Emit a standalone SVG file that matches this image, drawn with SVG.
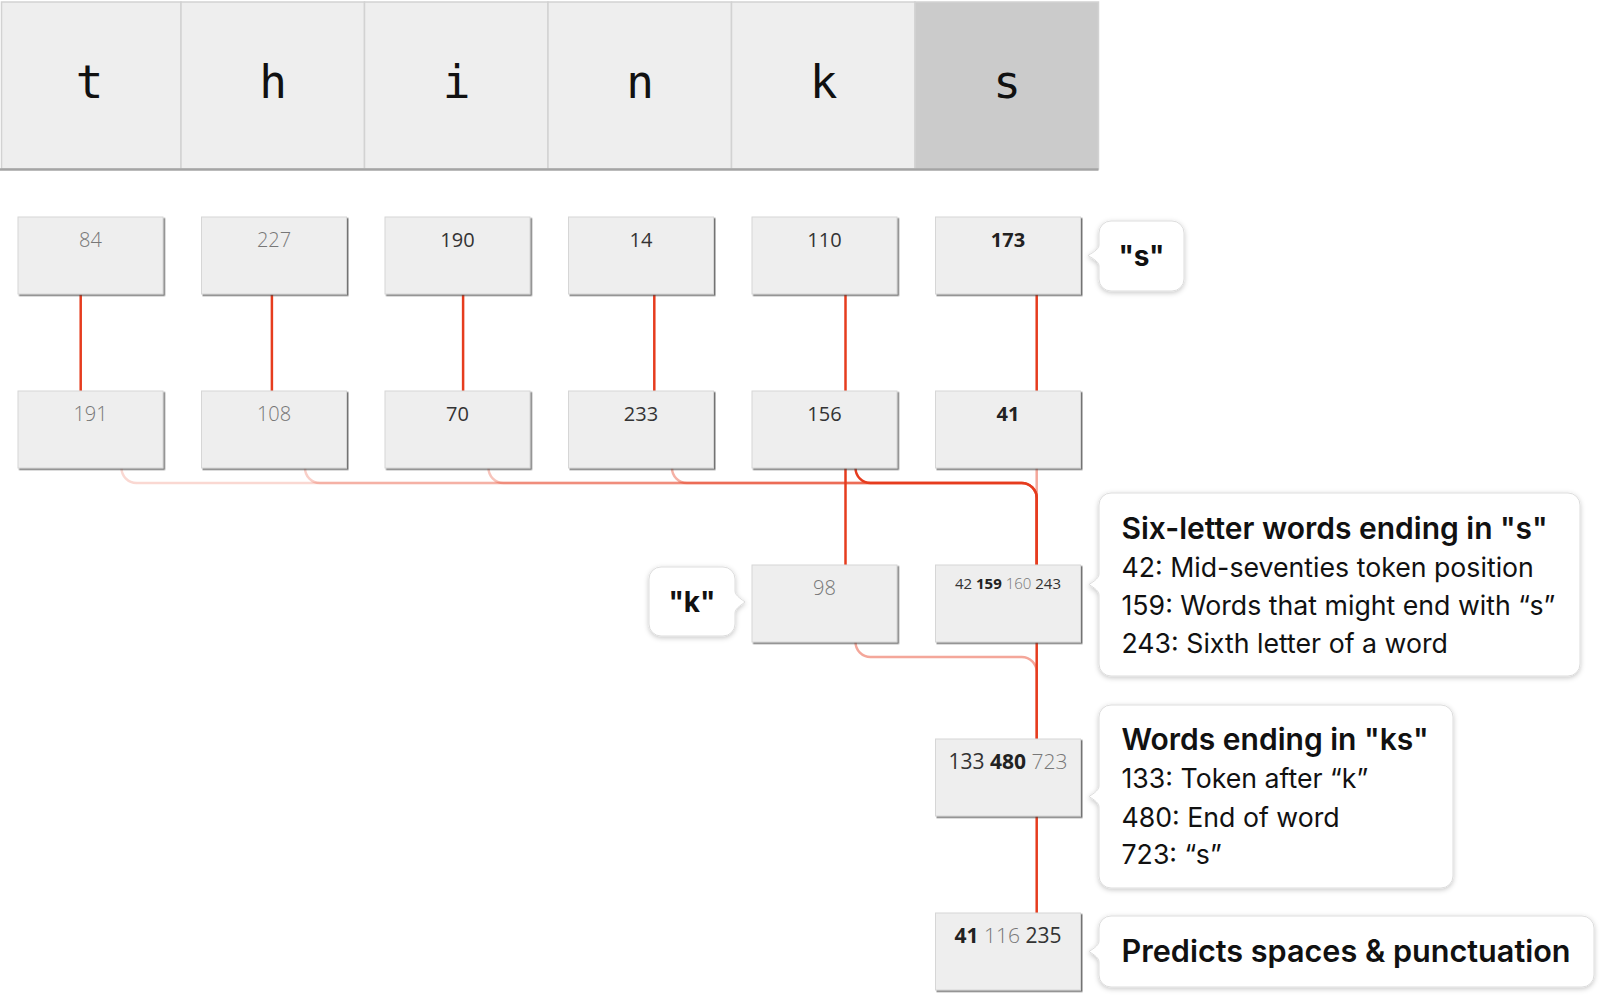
<svg xmlns="http://www.w3.org/2000/svg" width="1600" height="1005" viewBox="0 0 1600 1005">
<style>
.cell{fill:#eeeeee;stroke:#d2d2d2;stroke-width:1.5}
.cell.on{fill:#cbcbcb}
.letter{font-family:"DejaVu Sans Mono",monospace;font-size:46px;fill:#111;text-anchor:middle}
.box{fill:#eeeeee;stroke:#d6d6d6;stroke-width:1;filter:url(#bs)}
.num{font-family:"Open Sans","Liberation Sans",sans-serif;font-size:20px;text-anchor:middle;fill:#333}
.n21{font-size:21px}
.sm{font-size:15px}
.lt{fill:#777;font-weight:300}
.md{fill:#333;font-weight:400}
.bd{fill:#222;font-weight:700}
.bub{fill:#fff;stroke:#dddddd;stroke-width:1;filter:url(#cs)}
.ttl{font-family:Inter,"Liberation Sans",sans-serif;font-weight:600;font-size:30px;fill:#111}
.big{font-size:30.6px}
.body{font-family:Inter,"Liberation Sans",sans-serif;font-weight:400;font-size:26.7px;fill:#111}
.q{font-family:Inter,"Liberation Sans",sans-serif;font-weight:700;font-size:28px;fill:#111;text-anchor:middle}
.c{fill:none;stroke:#e63c1e;stroke-width:2.5}
</style>
<defs>
<filter id="bs" x="-10%" y="-10%" width="130%" height="130%">
<feDropShadow dx="1.5" dy="1.5" stdDeviation="0.7" flood-color="#444" flood-opacity="0.75"/>
</filter>
<filter id="cs" x="-10%" y="-20%" width="120%" height="140%">
<feDropShadow dx="0" dy="1.5" stdDeviation="2.5" flood-color="#000" flood-opacity="0.22"/>
</filter>
</defs>

<g id="tokens">
<rect class="cell" x="1.5" y="2" width="179.5" height="167"/>
<rect class="cell" x="181" y="2" width="183.5" height="167"/>
<rect class="cell" x="364.5" y="2" width="183.5" height="167"/>
<rect class="cell" x="548" y="2" width="183.5" height="167"/>
<rect class="cell" x="731.5" y="2" width="183.5" height="167"/>
<rect class="cell on" x="915" y="2" width="183.5" height="167"/>
<line x1="0" y1="169.5" x2="1098.5" y2="169.5" stroke="#a4a4a4" stroke-width="2.5"/>
<text class="letter" x="89.5" y="97.5">t</text>
<text class="letter" x="273" y="97.5">h</text>
<text class="letter" x="456.5" y="97.5">i</text>
<text class="letter" x="640" y="97.5">n</text>
<text class="letter" x="823.5" y="97.5">k</text>
<text class="letter" x="1007" y="97.5">s</text>
</g>

<g id="connectors">
<path class="c" d="M80.7,294.5V391"/>
<path class="c" d="M271.9,294.5V391"/>
<path class="c" d="M463.1,294.5V391"/>
<path class="c" d="M654.3,294.5V391"/>
<path class="c" d="M845.5,294.5V391"/>
<path class="c" d="M1036.7,294.5V391"/>
<path class="c" stroke-width="2" stroke-opacity="0.2" d="M121.5,468A15,15 0 0 0 136.5,483H1021.7A15,15 0 0 1 1036.7,498V565"/>
<path class="c" stroke-width="2" stroke-opacity="0.25" d="M305,468A15,15 0 0 0 320,483H1021.7A15,15 0 0 1 1036.7,498V565"/>
<path class="c" stroke-width="2" stroke-opacity="0.3" d="M488.5,468A15,15 0 0 0 503.5,483H1021.7A15,15 0 0 1 1036.7,498V565"/>
<path class="c" stroke-width="2" stroke-opacity="0.4" d="M672,468A15,15 0 0 0 687,483H1021.7A15,15 0 0 1 1036.7,498V565"/>
<path class="c" stroke-width="3" d="M855.5,468A15,15 0 0 0 870.5,483H1021.7A15,15 0 0 1 1036.7,498V565"/>
<path class="c" d="M845.5,468V565"/>
<path class="c" stroke-width="2" stroke-opacity="0.45" d="M1036.7,468V565"/>
<path class="c" stroke-width="2" stroke-opacity="0.45" d="M855.5,642A15,15 0 0 0 870.5,657H1021.7A15,15 0 0 1 1036.7,672V739"/>
<path class="c" d="M1036.7,642V739"/>
<path class="c" d="M1036.7,816V913"/>
</g>

<g id="n-r1c1"><rect class="box" x="18" y="217" width="145" height="77"/><text class="num lt" x="90.5" y="247">84</text></g>
<g id="n-r1c2"><rect class="box" x="201.5" y="217" width="145" height="77"/><text class="num lt" x="274" y="247">227</text></g>
<g id="n-r1c3"><rect class="box" x="385" y="217" width="145" height="77"/><text class="num md" x="457.5" y="247">190</text></g>
<g id="n-r1c4"><rect class="box" x="568.5" y="217" width="145" height="77"/><text class="num md" x="641" y="247">14</text></g>
<g id="n-r1c5"><rect class="box" x="752" y="217" width="145" height="77"/><text class="num md" x="824.5" y="247">110</text></g>
<g id="n-r1c6"><rect class="box" x="935.5" y="217" width="145" height="77"/><text class="num bd" x="1008" y="247">173</text></g>

<g id="n-r2c1"><rect class="box" x="18" y="391" width="145" height="77"/><text class="num lt" x="90.5" y="421">191</text></g>
<g id="n-r2c2"><rect class="box" x="201.5" y="391" width="145" height="77"/><text class="num lt" x="274" y="421">108</text></g>
<g id="n-r2c3"><rect class="box" x="385" y="391" width="145" height="77"/><text class="num md" x="457.5" y="421">70</text></g>
<g id="n-r2c4"><rect class="box" x="568.5" y="391" width="145" height="77"/><text class="num md" x="641" y="421">233</text></g>
<g id="n-r2c5"><rect class="box" x="752" y="391" width="145" height="77"/><text class="num md" x="824.5" y="421">156</text></g>
<g id="n-r2c6"><rect class="box" x="935.5" y="391" width="145" height="77"/><text class="num bd" x="1008" y="421">41</text></g>

<g id="n-r3c5"><rect class="box" x="752" y="565" width="145" height="77"/><text class="num lt" x="824.5" y="595">98</text></g>
<g id="n-r3c6"><rect class="box" x="935.5" y="565" width="145" height="77"/><text class="num sm" x="1008" y="589"><tspan class="md">42 </tspan><tspan class="bd">159 </tspan><tspan class="lt">160 </tspan><tspan class="md">243</tspan></text></g>
<g id="n-r4c6"><rect class="box" x="935.5" y="739" width="145" height="77"/><text class="num n21" x="1008" y="769"><tspan class="md">133 </tspan><tspan class="bd">480 </tspan><tspan class="lt">723</tspan></text></g>
<g id="n-r5c6"><rect class="box" x="935.5" y="913" width="145" height="77"/><text class="num n21" x="1008" y="943"><tspan class="bd">41 </tspan><tspan class="lt">116 </tspan><tspan class="md">235</tspan></text></g>

<g id="callout-s">
<path class="bub" d="M1111,221H1172A12,12 0 0 1 1184,233V279A12,12 0 0 1 1172,291H1111A12,12 0 0 1 1099,279V266C1099,261 1090,257 1088,255.5C1090,254 1099,250 1099,245V233A12,12 0 0 1 1111,221Z"/>
<text class="q" x="1141.5" y="266">"s"</text>
</g>
<g id="callout-k">
<path class="bub" d="M661,567H723A12,12 0 0 1 735,579V591C735,596 743,600 745,602C743,604 735,608 735,613V624A12,12 0 0 1 723,636H661A12,12 0 0 1 649,624V579A12,12 0 0 1 661,567Z"/>
<text class="q" x="692" y="612">"k"</text>
</g>
<g id="callout-six">
<path class="bub" d="M1111,493H1568A12,12 0 0 1 1580,505V664A12,12 0 0 1 1568,676H1111A12,12 0 0 1 1099,664V595C1099,590 1091,586 1089,584.5C1091,583 1099,579 1099,574V505A12,12 0 0 1 1111,493Z"/>
<text class="ttl" x="1121.5" y="538.5">Six-letter words ending in "s"</text>
<text class="body" x="1121.5" y="576.5">42: Mid-seventies token position</text>
<text class="body" x="1121.5" y="615">159: Words that might end with “s”</text>
<text class="body" x="1121.5" y="653.3">243: Sixth letter of a word</text>
</g>
<g id="callout-ks">
<path class="bub" d="M1111,705H1441A12,12 0 0 1 1453,717V876A12,12 0 0 1 1441,888H1111A12,12 0 0 1 1099,876V807C1099,802 1091,798 1089,796.5C1091,795 1099,791 1099,786V717A12,12 0 0 1 1111,705Z"/>
<text class="ttl" x="1121.5" y="750">Words ending in "ks"</text>
<text class="body" x="1121.5" y="788.3">133: Token after “k”</text>
<text class="body" x="1121.5" y="826.7">480: End of word</text>
<text class="body" x="1121.5" y="864.3">723: “s”</text>
</g>
<g id="callout-predicts">
<path class="bub" d="M1111,916H1582A12,12 0 0 1 1594,928V975A12,12 0 0 1 1582,987H1111A12,12 0 0 1 1099,975V962C1099,957 1091,953 1089,951.5C1091,950 1099,946 1099,941V928A12,12 0 0 1 1111,916Z"/>
<text class="ttl big" x="1121.5" y="961.7">Predicts spaces &amp; punctuation</text>
</g>
</svg>
